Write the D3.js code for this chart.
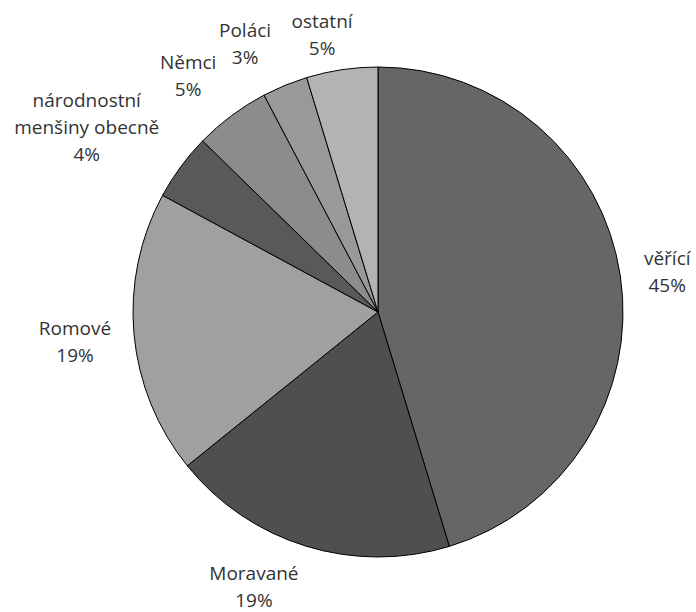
<!DOCTYPE html>
<html>
<head>
<meta charset="utf-8">
<script src="https://cdn.jsdelivr.net/npm/d3@7/dist/d3.min.js"></script>
<style>
  html, body { margin: 0; padding: 0; background: #fff; }
  svg { display: block; }
  text { font-family: "Open Sans", sans-serif; font-size: 19px; fill: #333; }
</style>
</head>
<body>
<svg id="chart" width="696" height="612"></svg>
<script>
// ---- data ----
const categories = ["věřící", "Moravané", "Romové", "národnostní menšiny obecně", "Němci", "Poláci", "ostatní"];
const values = [45.3, 18.9, 18.7, 4.4, 5.0, 3.0, 4.7];
const colors = ["#666666", "#4f4f4f", "#a0a0a0", "#595959", "#8c8c8c", "#999999", "#b3b3b3"];

// ---- layout (label placement, polar around pie centre: degrees clockwise from top, px) ----
const labelAngles = [82.1, 204.3, 264.3, 302.4, 321.2, 333.6, 348.6];
const labelRadii = [292, 301.5, 304.5, 345, 303, 299, 283];

const W = 696, H = 612;
const cx = 378, cy = 312, R = 245;
const lineH = 27, capH = 13, wrapWidth = 160;

const svg = d3.select("#chart");
const g = svg.append("g").attr("transform", `translate(${cx},${cy})`);

const data = categories.map((c, i) => ({ name: c, value: values[i], color: colors[i], i }));
const pie = d3.pie().sort(null).value(d => d.value).startAngle(0).endAngle(2 * Math.PI);
const arc = d3.arc().innerRadius(0).outerRadius(R);
const arcs = pie(data);

g.selectAll("path.slice")
  .data(arcs)
  .enter().append("path")
  .attr("class", "slice")
  .attr("d", arc)
  .attr("fill", d => d.data.color)
  .attr("stroke", "#000")
  .attr("stroke-width", 1)
  .attr("stroke-linejoin", "round");

const total = d3.sum(values);
const fmt = v => Math.round(v / total * 100) + "%";

// measure helper for word wrapping
const measure = svg.append("text").attr("visibility", "hidden");
function textWidth(s) { measure.text(s); return measure.node().getComputedTextLength(); }
function wrap(s) {
  const words = s.split(" ");
  const lines = [];
  let cur = "";
  words.forEach(w => {
    const t = cur ? cur + " " + w : w;
    if (cur && textWidth(t) > wrapWidth) { lines.push(cur); cur = w; } else { cur = t; }
  });
  if (cur) lines.push(cur);
  return lines;
}

arcs.forEach((a, i) => {
  const ang = labelAngles[i] * Math.PI / 180;
  const r = labelRadii[i];
  const x = r * Math.sin(ang);
  const y = -r * Math.cos(ang);
  const lines = wrap(a.data.name).concat([fmt(a.data.value)]);
  const firstBaseline = y - (lines.length - 1) * lineH / 2 + capH / 2;
  const t = g.append("text").attr("text-anchor", "middle");
  lines.forEach((ln, k) => {
    t.append("tspan").attr("x", x).attr("y", firstBaseline + k * lineH).text(ln);
  });
});
measure.remove();
</script>
</body>
</html>
